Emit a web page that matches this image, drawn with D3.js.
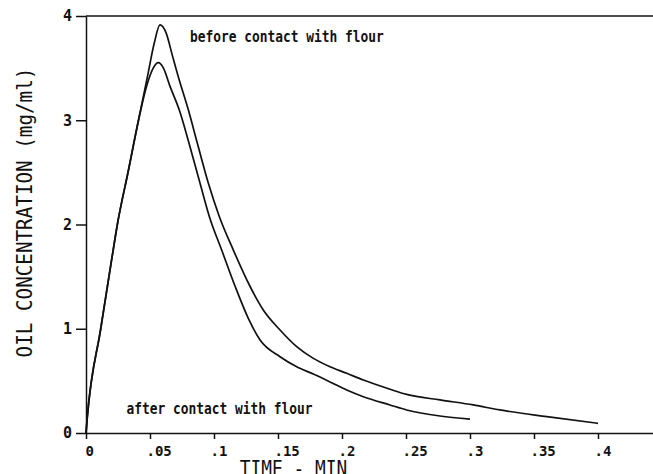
<!DOCTYPE html>
<html>
<head>
<meta charset="utf-8">
<script src="https://cdn.jsdelivr.net/npm/d3@7"></script>
<style>
  html, body { margin: 0; padding: 0; background: #fff; }
  svg { display: block; }
  text { font-family: "DejaVu Sans Mono", "Liberation Mono", monospace; fill: #111; }
</style>
</head>
<body>
<svg id="chart" width="653" height="474"></svg>
<script>
// Oil concentration elution curves (mg/ml) against time (min)
const timeBefore = [0, 0.001, 0.0115, 0.020, 0.0245, 0.0332, 0.041, 0.048, 0.0533, 0.0578,
  0.0625, 0.0675, 0.0721, 0.080, 0.087, 0.0956, 0.1042, 0.1151, 0.128, 0.1385, 0.1516, 0.1646, 0.1776,
  0.1906, 0.2037, 0.2167, 0.2375, 0.2505, 0.2766, 0.3026, 0.3234, 0.36, 0.40];
const concBefore = [0, 0.15, 1.0, 1.66, 2.0, 2.523, 3.0, 3.418, 3.738, 3.914,
  3.84, 3.62, 3.418, 3.098, 2.779, 2.395, 2.075, 1.755, 1.41, 1.18, 0.988, 0.828, 0.716,
  0.636, 0.573, 0.508, 0.42, 0.37, 0.317, 0.269, 0.221, 0.157, 0.093];

const timeAfter = [0, 0.001, 0.0115, 0.020, 0.0245, 0.0332, 0.041, 0.0479, 0.0525, 0.0565, 0.0605,
  0.0655, 0.0729, 0.0805, 0.0891, 0.0964, 0.106, 0.1164, 0.1268, 0.136, 0.1516, 0.1646, 0.1776,
  0.1906, 0.2037, 0.2167, 0.2375, 0.2505, 0.2766, 0.30];
const concAfter = [0, 0.15, 1.0, 1.66, 2.0, 2.523, 3.0, 3.35, 3.5, 3.552, 3.5,
  3.33, 3.098, 2.779, 2.395, 2.075, 1.755, 1.41, 1.10, 0.892, 0.732, 0.636, 0.565,
  0.49, 0.412, 0.348, 0.269, 0.221, 0.163, 0.134];

const xTicks = [0, 0.05, 0.1, 0.15, 0.2, 0.25, 0.3, 0.35, 0.4];
const xTickLabels = ["0", ".05", ".1", ".15", ".2", ".25", ".3", ".35", ".4"];
const yTicks = [0, 1, 2, 3, 4];

const svg = d3.select("#chart");
const W = 653, H = 474;

const x = d3.scaleLinear().domain([0, 0.45]).range([86, 86 + 0.45 * 1280]);
const y = d3.scaleLinear().domain([0, 4]).range([433, 16]);

// frame: top rule
svg.append("line")
  .attr("x1", x(0)).attr("x2", W)
  .attr("y1", y(4)).attr("y2", y(4))
  .attr("stroke", "#111").attr("stroke-width", 1.5);

// x axis
const xAxis = d3.axisBottom(x)
  .tickValues(xTicks)
  .tickFormat((d, i) => xTickLabels[i])
  .tickSize(6).tickSizeOuter(0).tickPadding(7);
const gx = svg.append("g").attr("transform", `translate(0,${y(0)})`).call(xAxis);
gx.select(".domain").attr("stroke", "#111").attr("stroke-width", 1.5);
gx.selectAll(".tick line").attr("stroke", "#111").attr("stroke-width", 1.5);
gx.selectAll(".tick text")
  .attr("font-size", 14)
  .attr("font-weight", "bold")
  .attr("text-anchor", "start")
  .attr("dx", (d, i) => xTickLabels[i].startsWith(".") ? -4 : -1)
  .attr("fill", "#111")
  .style("font-family", "DejaVu Sans Mono");

// y axis
const yAxis = d3.axisLeft(y)
  .tickValues(yTicks)
  .tickFormat(d3.format("d"))
  .tickSize(10).tickSizeOuter(0).tickPadding(4);
const gy = svg.append("g").attr("transform", `translate(${x(0)},0)`).call(yAxis);
gy.select(".domain").attr("stroke", "#111").attr("stroke-width", 1.5);
gy.selectAll(".tick line").attr("stroke", "#111").attr("stroke-width", 1.5);
gy.selectAll(".tick text")
  .attr("font-size", 15)
  .attr("font-weight", "bold")
  .attr("fill", "#111")
  .style("font-family", "DejaVu Sans Mono");

// curves
const line = d3.line()
  .x(d => x(d[0]))
  .y(d => y(d[1]))
  .curve(d3.curveMonotoneX);

const seriesBefore = timeBefore.map((t, i) => [t, concBefore[i]]);
const seriesAfter = timeAfter.map((t, i) => [t, concAfter[i]]);

[seriesBefore, seriesAfter].forEach(s => {
  svg.append("path")
    .datum(s)
    .attr("d", line)
    .attr("fill", "none")
    .attr("stroke", "#111")
    .attr("stroke-width", 1.7)
    .attr("stroke-linejoin", "round");
});

// annotations
svg.append("text")
  .attr("transform", "translate(190,41.5) scale(0.86,1)")
  .attr("font-size", 15)
  .attr("font-weight", "bold")
  .text("before contact with flour");

svg.append("text")
  .attr("transform", "translate(126.5,414) scale(0.86,1)")
  .attr("font-size", 15)
  .attr("font-weight", "bold")
  .text("after contact with flour");

// axis titles
svg.append("text")
  .attr("transform", "translate(31.5,212.5) rotate(-90) scale(0.94,1)")
  .attr("text-anchor", "middle")
  .attr("font-size", 20.5)
  .text("OIL CONCENTRATION (mg/ml)");

svg.append("text")
  .attr("transform", "translate(293.5,476) scale(0.85,1)")
  .attr("text-anchor", "middle")
  .attr("font-size", 21)
  .text("TIME - MIN");
</script>
</body>
</html>
